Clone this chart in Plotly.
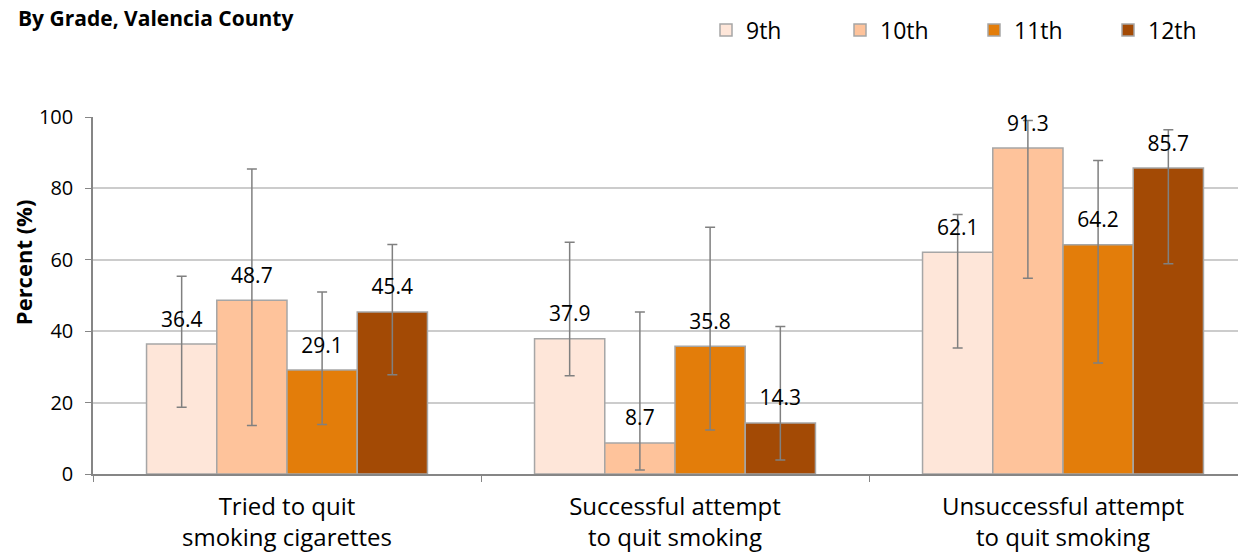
import plotly.graph_objects as go

categories = ["Tried to quit<br>smoking cigarettes",
              "Successful attempt<br>to quit smoking",
              "Unsuccessful attempt<br>to quit smoking"]
grades = ["9th", "10th", "11th", "12th"]
colors = ["#FEE6D9", "#FEC39B", "#E37D0A", "#A34A05"]

values = {
    "9th": [36.4, 37.9, 62.1],
    "10th": [48.7, 8.7, 91.3],
    "11th": [29.1, 35.8, 64.2],
    "12th": [45.4, 14.3, 85.7],
}
ci_upper = {
    "9th": [55.4, 64.9, 72.7],
    "10th": [85.4, 45.4, 99.0],
    "11th": [51.0, 69.1, 87.8],
    "12th": [64.3, 41.3, 96.4],
}
ci_lower = {
    "9th": [18.7, 27.5, 35.3],
    "10th": [13.6, 1.1, 54.8],
    "11th": [13.9, 12.3, 31.1],
    "12th": [27.8, 3.9, 58.9],
}

FONT = "Open Sans, sans-serif"

fig = go.Figure()
for g, c in zip(grades, colors):
    v = values[g]
    fig.add_trace(go.Bar(
        name=g, x=categories, y=v, marker_color=c,
        marker_line=dict(color="#A6A6A6", width=1.5),
        error_y=dict(type="data", symmetric=False,
                     array=[u - a for u, a in zip(ci_upper[g], v)],
                     arrayminus=[a - l for l, a in zip(ci_lower[g], v)],
                     color="#808080", thickness=1.5, width=5),
    ))

# value labels sit a bit higher above the bars than bar "outside" text allows
for g in grades:
    v = values[g]
    fig.add_trace(go.Scatter(
        x=categories, y=v, mode="markers+text", orientation="v",
        marker=dict(size=18, opacity=0), showlegend=False, hoverinfo="skip",
        text=[f"{a:.1f}" for a in v], textposition="top center",
        textfont=dict(size=21, color="black"), cliponaxis=False,
    ))

# page body has an 8px margin, so the figure is shifted/shrunk to compensate
fig.update_layout(
    width=1238, height=550,
    margin=dict(l=85, r=0, t=107, b=84),
    plot_bgcolor="white", paper_bgcolor="white",
    barmode="group", bargap=0.276, bargroupgap=0,
    scattermode="group", scattergap=0.276,
    font=dict(family=FONT, color="black"),
    legend=dict(orientation="h", x=(706 - 93) / 1153, y=1 + (115 - 6) / 359,
                xanchor="left", yanchor="top",
                font=dict(size=23), entrywidth=89, entrywidthmode="pixels",
                traceorder="normal"),
    annotations=[
        dict(text="<b>By Grade, Valencia County</b>", xref="paper", yref="paper",
             x=(295 - 93) / 1153, y=1 + (115 - 15) / 359, xanchor="right", yanchor="middle",
             showarrow=False, font=dict(size=21)),
        dict(text="<b>Percent (%)</b>", xref="paper", yref="paper", textangle=-90,
             x=(23 - 93) / 1153, y=(474 - 261) / 359, xanchor="center", yanchor="middle",
             showarrow=False, font=dict(size=22)),
    ],
)
fig.update_xaxes(range=[-0.5, 2.5 - 11 / 388], showline=True, linecolor="#868686", linewidth=1.5,
                 ticks="outside", tickson="boundaries", ticklen=6, tickcolor="#868686",
                 tickfont=dict(size=24), ticklabelstandoff=10, showgrid=False)
fig.update_yaxes(range=[0, 100], dtick=20, showline=True, linecolor="#868686", linewidth=1.5,
                 ticks="outside", ticklen=6, tickcolor="#868686", ticklabelstandoff=8,
                 gridcolor="#CCCCCC", gridwidth=1.5, tickfont=dict(size=20),
                 zeroline=False)

fig.write_html("out.html")
